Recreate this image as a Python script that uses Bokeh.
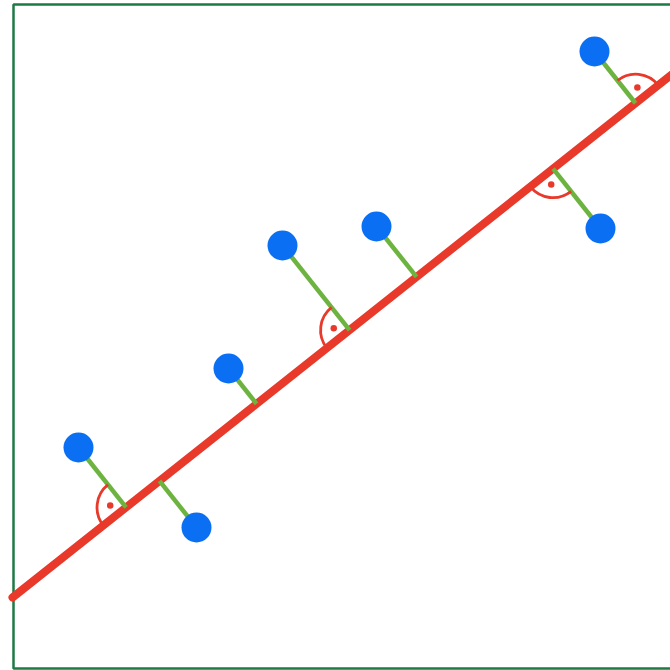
import numpy as np
from bokeh.plotting import figure
from bokeh.models import Range1d
from bokeh.embed import file_html
from bokeh.resources import INLINE

# Data points (x, y) in chart units
px = [78, 196, 228, 282, 376, 600, 594]
py = [223, 143, 302, 425, 444, 442, 619]
# Fitted line: y = intercept + slope * (x - x0)
line_x0 = 12
line_y0 = 73
line_slope = 0.7933
line_x_end = 690
# Right-angle marker: -1 toward lower-left along line, +1 toward upper-right, 0 none
angle_side = [-1, 0, 0, -1, 0, -1, 1]

W, H = 670, 670
p = figure(width=W, height=H, output_backend="svg", toolbar_location=None,
           x_range=Range1d(0, 670), y_range=Range1d(0, 670),
           min_border=0, outline_line_color=None)
p.axis.visible = False
p.grid.visible = False
p.background_fill_color = "white"

# Frame
p.quad(left=[13], right=[720], bottom=[2], top=[666],
       fill_color=None, line_color="#1e7a44", line_width=2.5)

px_a = np.array(px, float)
py_a = np.array(py, float)
u = np.array([1.0, line_slope]) / np.hypot(1.0, line_slope)
t = (px_a - line_x0) * u[0] + (py_a - line_y0) * u[1]
fx = line_x0 + t * u[0]
fy = line_y0 + t * u[1]

# Regression line
p.line([line_x0, line_x_end],
       [line_y0, line_y0 + line_slope * (line_x_end - line_x0)],
       line_color="#e8392a", line_width=8, line_cap="round")

# Residual segments
p.segment(x0=px_a, y0=py_a, x1=fx, y1=fy, line_color="#6db33f", line_width=4.5)

# Right-angle markers
ax, ay, sa, ea, dx_, dy_ = [], [], [], [], [], []
line_ang = np.arctan2(u[1], u[0])
r = 29
for i, s in enumerate(angle_side):
    if s == 0:
        continue
    a_pt = np.arctan2(py_a[i] - fy[i], px_a[i] - fx[i])
    a_ln = line_ang if s > 0 else line_ang + np.pi
    d = (a_pt - a_ln) % (2 * np.pi)
    if d < np.pi:
        start, end = a_ln, a_pt
    else:
        start, end = a_pt, a_ln
    ax.append(fx[i]); ay.append(fy[i]); sa.append(start); ea.append(end)
    mid = start + ((end - start) % (2 * np.pi)) / 2
    dx_.append(fx[i] + 0.55 * r * np.cos(mid))
    dy_.append(fy[i] + 0.55 * r * np.sin(mid))

p.arc(x=ax, y=ay, radius=r, start_angle=sa, end_angle=ea,
      line_color="#e8392a", line_width=2.8, direction="anticlock")
p.scatter(dx_, dy_, size=6.5, fill_color="#e8392a", line_color=None)

# Points
p.scatter(px_a, py_a, size=30, fill_color="#0a6ff2", line_color=None)

open("out.html", "w").write(file_html(p, INLINE))
